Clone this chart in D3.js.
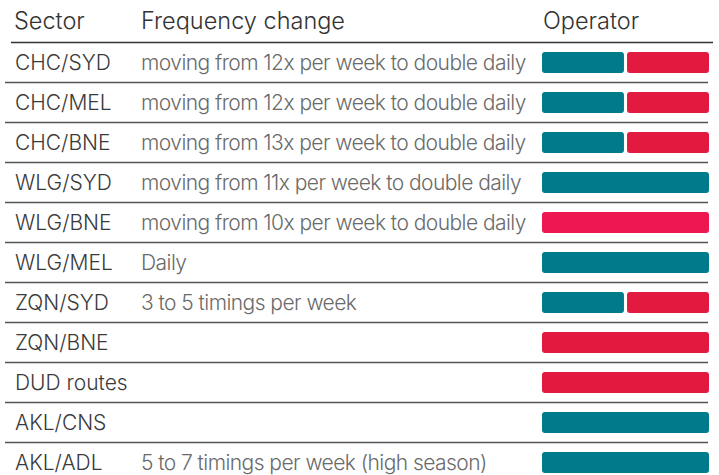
<!DOCTYPE html>
<html>
<head>
<meta charset="utf-8">
<script src="https://cdn.jsdelivr.net/npm/d3@7"></script>
<style>
  html, body { margin: 0; padding: 0; background: #fff; }
  svg { display: block; }
</style>
</head>
<body>
<div id="chart"></div>
<script>
const headers = ["Sector", "Frequency change", "Operator"];
const sectors = ["CHC/SYD", "CHC/MEL", "CHC/BNE", "WLG/SYD", "WLG/BNE", "WLG/MEL", "ZQN/SYD", "ZQN/BNE", "DUD routes", "AKL/CNS", "AKL/ADL"];
const frequencyChanges = [
  "moving from 12x per week to double daily",
  "moving from 12x per week to double daily",
  "moving from 13x per week to double daily",
  "moving from 11x per week to double daily",
  "moving from 10x per week to double daily",
  "Daily",
  "3 to 5 timings per week",
  "",
  "",
  "",
  "5 to 7 timings per week (high season)"
];
const operators = [
  ["teal", "red"],
  ["teal", "red"],
  ["teal", "red"],
  ["teal"],
  ["pink"],
  ["teal"],
  ["teal", "red"],
  ["red"],
  ["red"],
  ["teal"],
  ["teal"]
];
const operatorColors = { teal: "#007b8b", red: "#e31a40", pink: "#ee1850" };

const W = 719, H = 475;
const svg = d3.select("#chart").append("svg").attr("width", W).attr("height", H);

const y = d3.scaleBand().domain(sectors).range([42.5, 42.5 + 40 * sectors.length]);
const colX = [14, 141, 543];
const barX = d3.scaleLinear().domain([0, 1]).range([542, 709]);
const barH = 21;
const FONT = "Inter, sans-serif";

svg.selectAll("text.header").data(headers).join("text")
  .attr("class", "header")
  .attr("x", (d, i) => colX[i])
  .attr("y", 29)
  .attr("font-family", FONT)
  .attr("font-weight", 300)
  .attr("font-size", 23.5)
  .attr("fill", "#333")
  .text(d => d);

svg.append("line")
  .attr("x1", 11).attr("x2", 713)
  .attr("y1", y.range()[0]).attr("y2", y.range()[0])
  .attr("stroke", "#333").attr("stroke-width", 1.6);

svg.selectAll("line.sep").data(sectors.slice(0, -1)).join("line")
  .attr("class", "sep")
  .attr("x1", 5).attr("x2", 708)
  .attr("y1", d => y(d) + y.bandwidth())
  .attr("y2", d => y(d) + y.bandwidth())
  .attr("stroke", "#555").attr("stroke-width", 1.5);

const rows = svg.selectAll("g.row").data(sectors.map((s, i) => ({ s, f: frequencyChanges[i], ops: operators[i] })))
  .join("g").attr("class", "row")
  .attr("transform", d => `translate(0,${y(d.s) + y.bandwidth() / 2})`);

rows.append("text")
  .attr("x", 15).attr("y", 7.5)
  .attr("font-family", FONT)
  .attr("font-weight", 300)
  .attr("font-size", 21)
  .attr("fill", "#3a3a3a")
  .text(d => d.s);

rows.append("text")
  .attr("x", colX[1]).attr("y", 7.5)
  .attr("font-family", FONT)
  .attr("font-weight", 300)
  .attr("font-size", 21)
  .attr("letter-spacing", -0.55)
  .attr("fill", "#6a6a6a")
  .text(d => d.f);

rows.each(function(d) {
  const band = d3.scaleBand().domain(d3.range(d.ops.length)).range(barX.range()).paddingInner(d.ops.length > 1 ? 0.036 : 0);
  d3.select(this).selectAll("rect").data(d.ops).join("rect")
    .attr("x", (o, i) => band(i))
    .attr("y", -barH / 2)
    .attr("width", band.bandwidth())
    .attr("height", barH)
    .attr("rx", 3).attr("ry", 3)
    .attr("fill", o => operatorColors[o]);
});
</script>
</body>
</html>
